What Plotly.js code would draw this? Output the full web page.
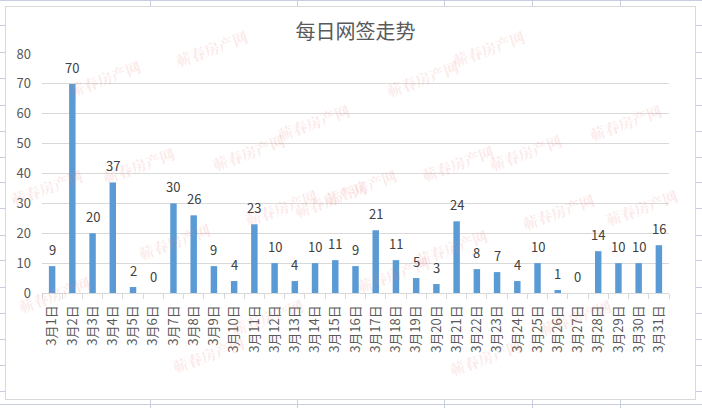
<!DOCTYPE html>
<html>
<head>
<meta charset="utf-8">
<script src="https://cdn.plot.ly/plotly-3.0.1.min.js"></script>
<style>
  html, body { margin:0; padding:0; background:#ffffff; }
  #wrap { position:relative; width:702px; height:408px; overflow:hidden; background:#fff; }
  .vl { position:absolute; top:0; width:1px; height:408px; background:#c9cde0; }
  .hl { position:absolute; left:0; height:1px; width:702px; background:#c9cde0; }
  #frame { position:absolute; left:5px; top:6px; width:691px; height:394px; background:#fff; border:1px solid #d9d9d9; box-sizing:border-box; }
  #chart { position:absolute; left:0; top:0; width:702px; height:408px; }
</style>
</head>
<body>
<div id="wrap">
  <div class="vl" style="left:150px"></div>
  <div class="vl" style="left:297px"></div>
  <div class="vl" style="left:444px"></div>
  <div class="vl" style="left:532px"></div>
  <div class="vl" style="left:620px"></div>
  <div class="hl" style="top:0px"></div>
  <div class="hl" style="top:25px"></div>
  <div class="hl" style="top:52px"></div>
  <div class="hl" style="top:78px"></div>
  <div class="hl" style="top:105px"></div>
  <div class="hl" style="top:131px"></div>
  <div class="hl" style="top:157px"></div>
  <div class="hl" style="top:182px"></div>
  <div class="hl" style="top:208px"></div>
  <div class="hl" style="top:235px"></div>
  <div class="hl" style="top:260px"></div>
  <div class="hl" style="top:287px"></div>
  <div class="hl" style="top:313px"></div>
  <div class="hl" style="top:339px"></div>
  <div class="hl" style="top:365px"></div>
  <div class="hl" style="top:391px"></div>
  <div class="hl" style="top:404px"></div>
  <div id="frame"></div>
  <div id="chart"></div>
</div>
<script>
const chartTitle = "每日网签走势";
const days = ["3月1日","3月2日","3月3日","3月4日","3月5日","3月6日","3月7日","3月8日","3月9日","3月10日",
  "3月11日","3月12日","3月13日","3月14日","3月15日","3月16日","3月17日","3月18日","3月19日","3月20日",
  "3月21日","3月22日","3月23日","3月24日","3月25日","3月26日","3月27日","3月28日","3月29日","3月30日","3月31日"];
const signings = [9,70,20,37,2,0,30,26,9,4,23,10,4,10,11,9,21,11,5,3,24,8,7,4,10,1,0,14,10,10,16];
const yTicks = [0,10,20,30,40,50,60,70,80];
const watermarkText = "蕲春房产网";
const watermarkSpots = [[63,53],[170,23],[313,97],[530,23],[423,53],[667,97],[207,127],[97,165],[5,187],
  [240,233],[133,267],[330,200],[567,127],[457,163],[360,187],[600,237],[493,273],[683,207],
  [13,320],[167,380],[267,343],[617,343],[527,383],[393,300]];

const font = "'Noto Sans CJK SC', 'Noto Sans', sans-serif";
const W = 702, H = 408, ML = 42, MR = 33, MT = 54, MB = 115;
const PW = W - ML - MR, PH = H - MT - MB;

const trace = {
  type: "bar",
  x: days,
  y: signings,
  marker: { color: "#5b9bd5" },
  width: 0.32,
  hoverinfo: "x+y"
};

const labelAnns = days.map((d, i) => ({
  x: d, y: signings[i], xref: "x", yref: "y",
  text: String(signings[i]), showarrow: false,
  yanchor: "bottom", yshift: 5,
  font: { family: font, size: 13, color: "#404040" }
}));

const wmAnns = watermarkSpots.map(p => ({
  x: (p[0] - ML) / PW, y: (H - MB - p[1]) / PH, xref: "paper", yref: "paper",
  text: "<b>" + watermarkText + "</b>", showarrow: false, textangle: -20,
  font: { family: "'Noto Serif CJK SC', 'Noto Sans CJK SC', serif", size: 15, color: "rgba(235,120,120,0.17)" }
}));

const layout = {
  width: W, height: H,
  margin: { l: ML, r: MR, t: MT, b: MB, pad: 0 },
  paper_bgcolor: "rgba(0,0,0,0)",
  plot_bgcolor: "rgba(0,0,0,0)",
  showlegend: false,
  bargap: 0.68,
  title: {
    text: chartTitle,
    x: 0.5, xanchor: "center", xref: "paper",
    y: 1 - 32 / H, yanchor: "middle",
    font: { family: font, size: 20, color: "#595959" }
  },
  xaxis: {
    type: "category",
    tickangle: -90,
    tickfont: { family: font, size: 13, color: "#595959" },
    showline: true, linecolor: "#d9d9d9", linewidth: 1,
    ticks: "outside", tickson: "boundaries", ticklen: 5, tickcolor: "#d9d9d9",
    showgrid: false, zeroline: false,
    ticklabelstandoff: 6
  },
  yaxis: {
    range: [0, 80],
    tickvals: yTicks,
    tickfont: { family: font, size: 13, color: "#595959" },
    showgrid: true, gridcolor: "#d9d9d9", gridwidth: 1,
    zeroline: false, showline: false, ticks: "",
    ticklabelstandoff: 10
  },
  annotations: wmAnns.concat(labelAnns)
};

Plotly.newPlot("chart", [trace], layout, { displayModeBar: false, staticPlot: true });
</script>
</body>
</html>
